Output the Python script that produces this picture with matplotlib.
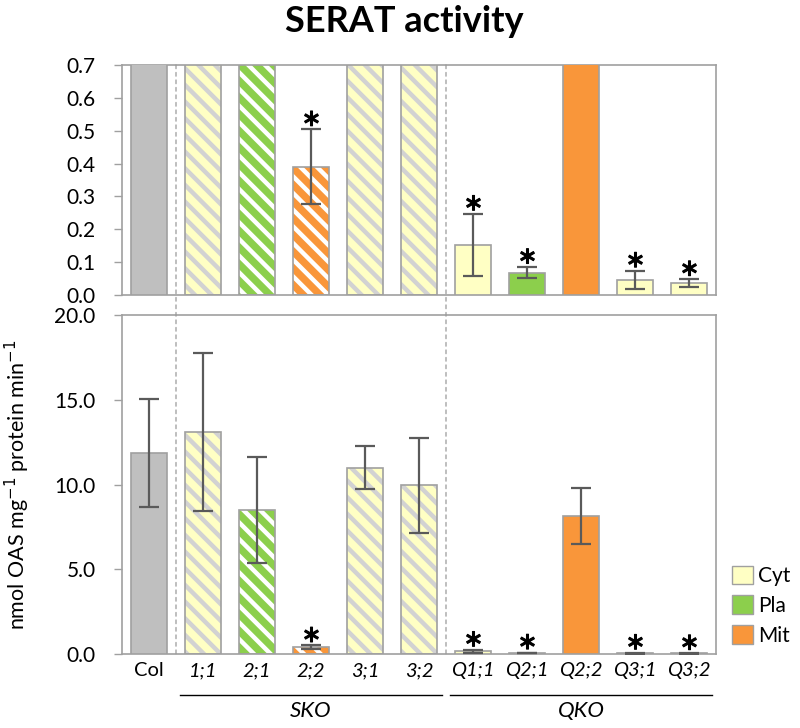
import matplotlib
matplotlib.use("Agg")
import matplotlib.pyplot as plt
from matplotlib.patches import Patch, ConnectionPatch
import matplotlib.patheffects as pe
import numpy as np

plt.rcParams['font.family'] = ['Lato', 'DejaVu Sans']
plt.rcParams['hatch.linewidth'] = 3.2
plt.rcParams['mathtext.fontset'] = 'dejavusans'

# ---------------- data ----------------
categories = ["Col", "1;1", "2;1", "2;2", "3;1", "3;2", "Q1;1", "Q2;1", "Q2;2", "Q3;1", "Q3;2"]
compartment = ["Col", "Cyt", "Pla", "Mit", "Cyt", "Cyt", "Cyt", "Pla", "Mit", "Cyt", "Cyt"]
hatched = [False, True, True, True, True, True, False, False, False, False, False]
values = [11.88, 13.12, 8.50, 0.39, 10.99, 9.95, 0.153, 0.068, 8.14, 0.046, 0.036]
err_low = [8.69, 8.46, 5.35, 0.276, 9.73, 7.16, 0.058, 0.051, 6.49, 0.017, 0.024]
err_high = [15.06, 17.78, 11.64, 0.504, 12.27, 12.76, 0.247, 0.085, 9.79, 0.074, 0.048]
significant = [False, False, False, True, False, False, True, True, False, True, True]
groups = [("SKO", 1, 5), ("QKO", 6, 10)]
legend_labels = ["Cyt", "Pla", "Mit"]

face = {"Col": "#BFBFBF", "Cyt": "#FFFFC4", "Pla": "#8CCF4C", "Mit": "#F9963A"}
stripe = {"Cyt": "#D2D2D2", "Pla": "#FFFFFF", "Mit": "#FFFFFF"}
edge = "#A0A0A0"
errc = "#5A5A5A"

fig = plt.figure(figsize=(8, 7.28), dpi=100)
ax_top = fig.add_axes([0.1525, 0.5948, 0.7425, 0.316])
ax_bot = fig.add_axes([0.1525, 0.1016, 0.7425, 0.4657])

x = np.arange(len(categories))
width = 0.67
vals = np.array(values)
yerr = np.array([vals - np.array(err_low), np.array(err_high) - vals])

for ax in (ax_top, ax_bot):
    for i in range(len(categories)):
        c = compartment[i]
        if hatched[i]:
            ax.bar(x[i], vals[i], width, color=face[c], hatch='\\\\', edgecolor=stripe[c],
                   linewidth=0, zorder=2)
            ax.bar(x[i], vals[i], width, fill=False, edgecolor=edge, linewidth=1.2, zorder=3)
        else:
            ax.bar(x[i], vals[i], width, color=face[c], edgecolor=edge, linewidth=1.2, zorder=3)
    ax.errorbar(x, vals, yerr=yerr, fmt='none', ecolor=errc, elinewidth=1.6,
                capsize=7, capthick=1.6, zorder=4)
    for s in ax.spines.values():
        s.set_color(edge)
        s.set_linewidth(1.2)
    ax.set_xlim(-0.5, len(categories) - 0.5)
    ax.tick_params(axis='y', direction='out', length=6, width=1.0, color=edge,
                   labelsize=15, pad=13)
    ax.tick_params(axis='x', length=0)

ax_top.set_ylim(0, 0.7)
ax_top.set_yticks(np.arange(0, 0.71, 0.1))
ax_top.set_yticklabels([f"{t:.1f}" for t in np.arange(0, 0.71, 0.1)])
ax_top.set_xticks([])

ax_bot.set_ylim(0, 20)
ax_bot.set_yticks([0, 5, 10, 15, 20])
ax_bot.set_yticklabels([f"{t:.1f}" for t in [0, 5, 10, 15, 20]])
ax_bot.set_xticks(x)
ax_bot.set_xticklabels(categories, fontsize=14.5)
for i, lab in enumerate(ax_bot.get_xticklabels()):
    if i > 0:
        lab.set_fontstyle('italic')
ax_bot.tick_params(axis='x', pad=6)

# significance stars
for ax in (ax_top, ax_bot):
    for i in range(len(categories)):
        if significant[i]:
            ax.annotate(r"$\ast$", (x[i], err_high[i]), xytext=(0, 2.5), textcoords='offset points',
                        ha='center', va='baseline', fontsize=17, color='black', zorder=5,
                        path_effects=[pe.withStroke(linewidth=0.8, foreground='black')])

# dashed separators through both panels
for sep in (0.5, 5.5):
    con = ConnectionPatch(xyA=(sep, 0.7), coordsA=ax_top.transData,
                          xyB=(sep, 0), coordsB=ax_bot.transData,
                          linestyle=(0, (3, 3)), color="#9A9A9A", linewidth=0.9, zorder=1)
    fig.add_artist(con)

# group lines and labels
trans = ax_bot.get_xaxis_transform()
for name, a, b in groups:
    ax_bot.plot([a - 0.43, b + 0.43], [-0.121, -0.121], color='black', lw=1.0,
                transform=trans, clip_on=False)
    ax_bot.text((a + b) / 2, -0.14, name, transform=trans, ha='center', va='top',
                fontsize=16, fontstyle='italic')

ax_bot.set_ylabel("nmol OAS mg$^{-1}$ protein min$^{-1}$", fontsize=15.5, labelpad=16)

fig.suptitle("SERAT activity", fontsize=26, fontweight='bold', x=0.505, y=0.993, va='top')

handles = [Patch(facecolor=face[k], edgecolor=edge, linewidth=1.0) for k in legend_labels]
fig.legend(handles, legend_labels, loc='center left', bbox_to_anchor=(0.915, 0.168),
           frameon=False, fontsize=15, handlelength=1.0, handleheight=1.0,
           handletextpad=0.25, labelspacing=0.45, borderaxespad=0, borderpad=0)

fig.savefig("out.png", dpi=100)
